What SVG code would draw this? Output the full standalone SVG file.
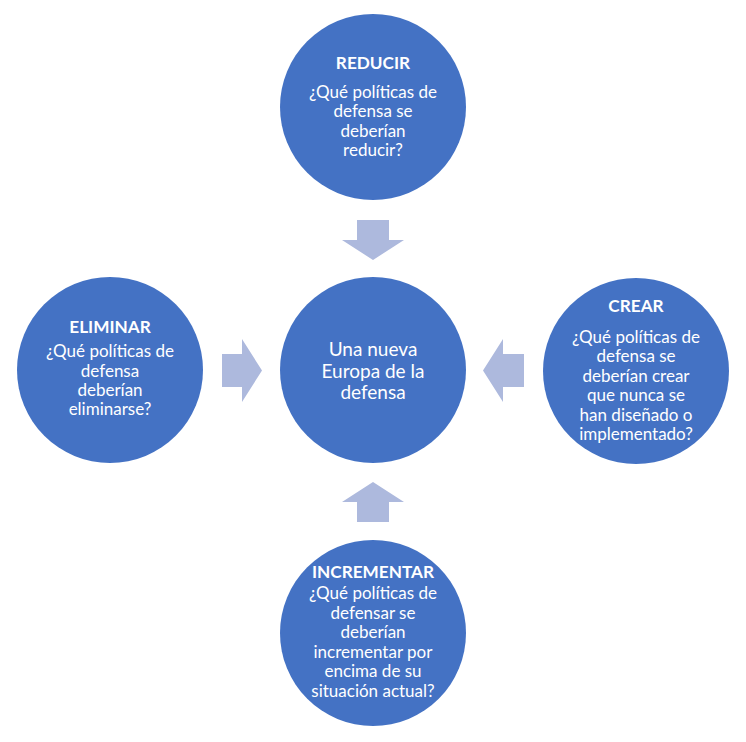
<svg xmlns="http://www.w3.org/2000/svg" width="746" height="742" viewBox="0 0 746 742">
<style>
.c{fill:#4472C4;}
.a{fill:#ADB9DD;}
text{fill:#FFFFFF;font-family:Lato,"Open Sans","Liberation Sans",sans-serif;text-anchor:middle;}
.t{font-size:17.2px;font-weight:bold;}
.b{font-size:17px;}
.m{font-size:19px;}
</style>
<rect width="746" height="742" fill="#FFFFFF"/>
<g id="connectors">
<polygon class="a" points="357,220 389,220 389,240 404,240 373,260 342,240 357,240"/>
<polygon class="a" points="357,522 389,522 389,502 404,502 373,482 342,502 357,502"/>
<polygon class="a" points="222,354 242,354 242,339 262,370.5 242,402 242,387 222,387"/>
<polygon class="a" points="524,354 503,354 503,339 483,370.5 503,402 503,387 524,387"/>
</g>
<g id="reducir">
<circle class="c" cx="373" cy="107" r="93"/>
<text class="t" x="373" y="69">REDUCIR</text>
<text class="b" x="373" y="97.5">¿Qué políticas de</text>
<text class="b" x="373" y="117">defensa se</text>
<text class="b" x="373" y="136.5">deberían</text>
<text class="b" x="373" y="156">reducir?</text>
</g>
<g id="eliminar">
<circle class="c" cx="110" cy="370" r="93"/>
<text class="t" x="110" y="333">ELIMINAR</text>
<text class="b" x="110" y="357">¿Qué políticas de</text>
<text class="b" x="110" y="376.5">defensa</text>
<text class="b" x="110" y="396">deberían</text>
<text class="b" x="110" y="415">eliminarse?</text>
</g>
<g id="centro">
<circle class="c" cx="373" cy="370" r="93"/>
<text class="m" x="373" y="356">Una nueva</text>
<text class="m" x="373" y="378">Europa de la</text>
<text class="m" x="373" y="399">defensa</text>
</g>
<g id="crear">
<circle class="c" cx="636" cy="371" r="93"/>
<text class="t" x="636" y="312">CREAR</text>
<text class="b" x="636" y="342.5">¿Qué políticas de</text>
<text class="b" x="636" y="362">defensa se</text>
<text class="b" x="636" y="381.5">deberían crear</text>
<text class="b" x="636" y="401">que nunca se</text>
<text class="b" x="636" y="420.5">han diseñado o</text>
<text class="b" x="636" y="440">implementado?</text>
</g>
<g id="incrementar">
<circle class="c" cx="373" cy="633" r="93"/>
<text class="t" x="373" y="578">INCREMENTAR</text>
<text class="b" x="373" y="599">¿Qué políticas de</text>
<text class="b" x="373" y="618.5">defensar se</text>
<text class="b" x="373" y="638">deberían</text>
<text class="b" x="373" y="657.5">incrementar por</text>
<text class="b" x="373" y="677">encima de su</text>
<text class="b" x="373" y="696.5">situación actual?</text>
</g>
</svg>
